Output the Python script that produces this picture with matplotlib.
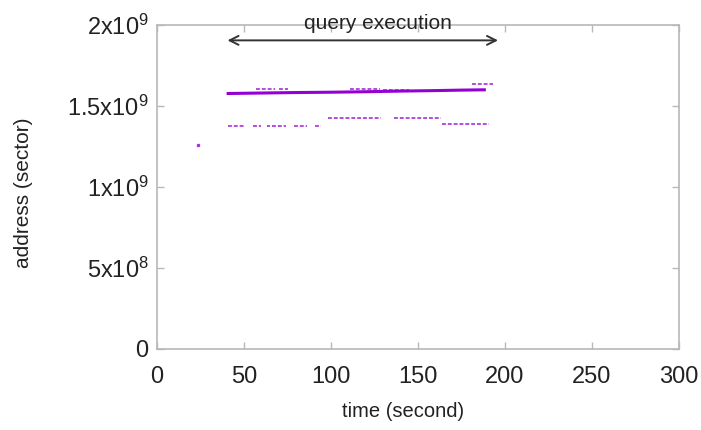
import matplotlib
matplotlib.use("Agg")
import matplotlib.pyplot as plt

plt.rcParams['font.family'] = ['Liberation Sans', 'DejaVu Sans']
plt.rcParams['mathtext.fontset'] = 'custom'
plt.rcParams['mathtext.rm'] = 'Liberation Sans'
plt.rcParams['mathtext.it'] = 'Liberation Sans'
plt.rcParams['mathtext.default'] = 'regular'

# Main (dense) access stream: time (s), address (sector)
main_t = [40, 60, 80, 100, 120, 140, 160, 175, 189]
main_addr = [1.577e9, 1.580e9, 1.583e9, 1.585e9, 1.588e9, 1.592e9, 1.595e9, 1.598e9, 1.600e9]

# Short segments of accesses: start time, end time, address
seg_start = [57, 70, 111, 130, 181, 41, 55, 63, 66, 79, 91, 98, 136, 164]
seg_end = [68, 75, 128, 145, 193, 50, 60, 65, 74, 86, 94, 129, 163, 191]
seg_addr = [1.606e9, 1.606e9, 1.607e9, 1.600e9, 1.634e9,
            1.374e9, 1.374e9, 1.374e9, 1.374e9, 1.374e9, 1.374e9,
            1.428e9, 1.428e9, 1.388e9]

# Isolated access
dot_t = [23.5]
dot_addr = [1.26e9]

x_ticks = [0, 50, 100, 150, 200, 250, 300]
y_ticks = [0, 5e8, 1e9, 1.5e9, 2e9]
y_tick_labels = ['0', r'5x10$^{8}$', r'1x10$^{9}$', r'1.5x10$^{9}$', r'2x10$^{9}$']

arrow_start, arrow_end, arrow_y = 40.5, 196, 1.905e9
label_t, label_y = 127, 2.01e9

purple = '#9400d3'

fig = plt.figure(figsize=(7.01, 4.30), dpi=100)
ax = fig.add_axes([0.224, 0.1884, 0.7446, 0.7535])

ax.plot(main_t, main_addr, color=purple, lw=2.2, solid_capstyle='butt')
ax.hlines(seg_addr, seg_start, seg_end, colors=purple, lw=1.4,
          linestyles=(0, (2, 1)), alpha=0.7)
ax.plot(dot_t, dot_addr, 's', color=purple, ms=1.5, alpha=0.7)

ax.annotate('', xy=(arrow_start, arrow_y), xytext=(arrow_end, arrow_y),
            arrowprops=dict(arrowstyle='<->', color='#333333', lw=1.4,
                            mutation_scale=16, shrinkA=0, shrinkB=0))
ax.text(label_t, label_y, 'query execution', ha='center', va='center',
        fontsize=15, color='#222222')

ax.set_xlim(0, 300)
ax.set_ylim(0, 2e9)
ax.set_xticks(x_ticks)
ax.set_xticklabels([str(v) for v in x_ticks])
ax.set_yticks(y_ticks)
ax.set_yticklabels(y_tick_labels)

for s in ax.spines.values():
    s.set_color('#b8b8b8')
    s.set_linewidth(1.2)
ax.tick_params(direction='in', length=5, width=1, color='#b8b8b8',
               top=True, right=True, labelsize=17, labelcolor='#222222')
ax.tick_params(axis='x', pad=12)
ax.tick_params(axis='y', pad=6)

ax.set_xlabel('time (second)', fontsize=14.5, color='#222222')
ax.set_ylabel('address (sector)', fontsize=15, color='#222222')
ax.xaxis.set_label_coords(0.471, -0.164)
ax.yaxis.set_label_coords(-0.238, 0.481)

fig.savefig('out.png', dpi=100)
